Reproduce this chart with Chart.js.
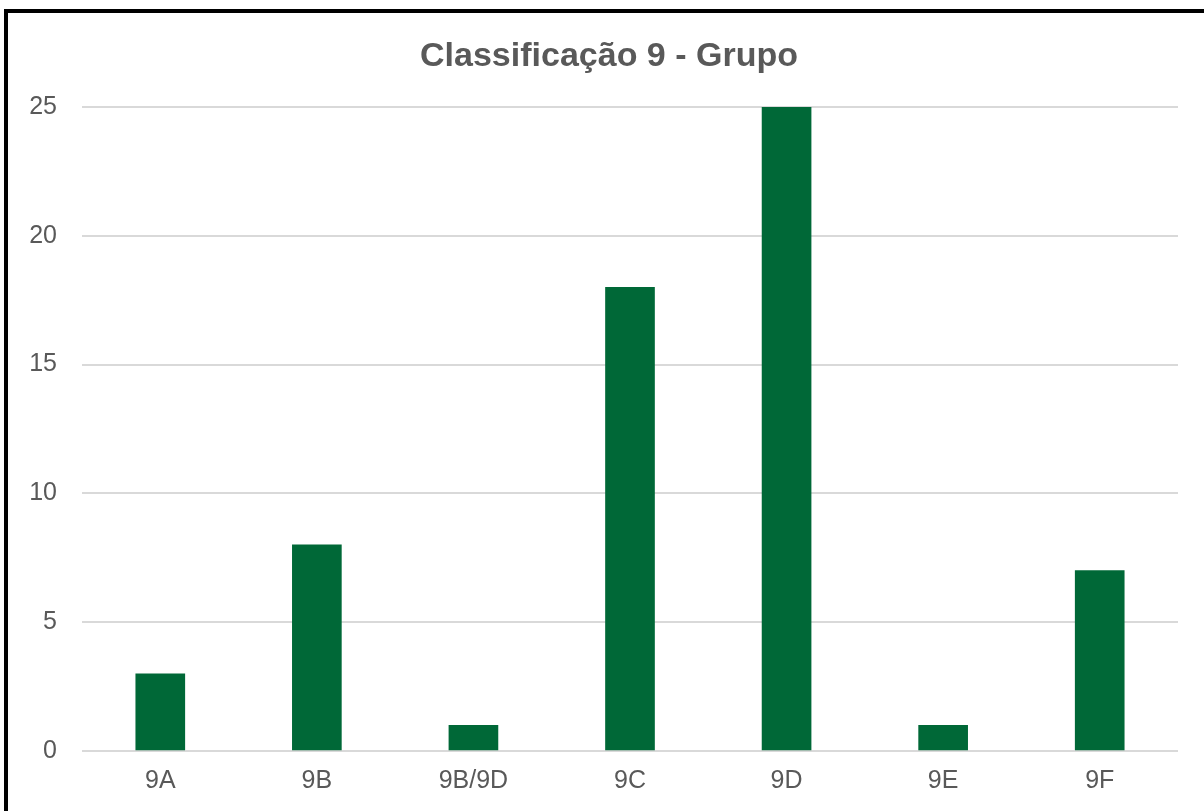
<!DOCTYPE html>
<html>
<head>
<meta charset="utf-8">
<title>Classificação 9 - Grupo</title>
<script src="https://cdn.jsdelivr.net/npm/chart.js@4/dist/chart.umd.min.js"></script>
<style>
  html, body { margin: 0; padding: 0; background: #ffffff; }
  body { width: 1204px; height: 811px; position: relative; overflow: hidden; }
  #frame {
    position: absolute; left: 4px; top: 9px; width: 1206px; height: 802px;
    box-sizing: border-box; border-top: 4px solid #000; border-left: 4px solid #000;
    background: #fff;
  }
  #chart { display: block; }
</style>
</head>
<body>
<div id="frame"><canvas id="chart" width="1202" height="798"></canvas></div>
<script>
// Turmas e número de alunos por grupo
const categories = ['9A', '9B', '9B/9D', '9C', '9D', '9E', '9F'];
const counts = [3, 8, 1, 18, 25, 1, 7];
const yTicks = [0, 5, 10, 15, 20, 25];

const textGray = '#595959';
const fontFamily = '"Liberation Sans", Arial, sans-serif';

new Chart(document.getElementById('chart'), {
  type: 'bar',
  data: {
    labels: categories,
    datasets: [{
      label: 'Grupo',
      data: counts,
      backgroundColor: '#006837',
      borderWidth: 0,
      barThickness: 49
    }]
  },
  options: {
    responsive: false,
    animation: false,
    devicePixelRatio: 1,
    layout: { padding: 0 },
    plugins: {
      legend: { display: false },
      tooltip: { enabled: false },
      title: {
        display: true,
        text: 'Classificação 9 - Grupo',
        color: textGray,
        font: { family: fontFamily, size: 34, weight: 'bold' },
        padding: { top: 23, bottom: 30.2 }
      }
    },
    scales: {
      x: {
        grid: { display: false, drawTicks: false },
        border: { display: false },
        ticks: {
          color: textGray,
          font: { family: fontFamily, size: 25 },
          padding: 15,
          maxRotation: 0
        },
        afterFit(scale) { scale.height = 60; }
      },
      y: {
        min: 0,
        max: 25,
        afterBuildTicks(scale) { scale.ticks = yTicks.map(v => ({ value: v })); },
        grid: { color: '#d9d9d9', lineWidth: 2, drawTicks: false },
        border: { display: false },
        ticks: {
          color: textGray,
          font: { family: fontFamily, size: 25 },
          padding: 25
        },
        afterFit(scale) { scale.width = 74; }
      },
      // empty right-hand margin beside the plot
      yRight: {
        display: true,
        position: 'right',
        grid: { display: false, drawTicks: false },
        border: { display: false },
        ticks: { display: false },
        afterFit(scale) { scale.width = 32; }
      }
    }
  }
});
</script>
</body>
</html>
